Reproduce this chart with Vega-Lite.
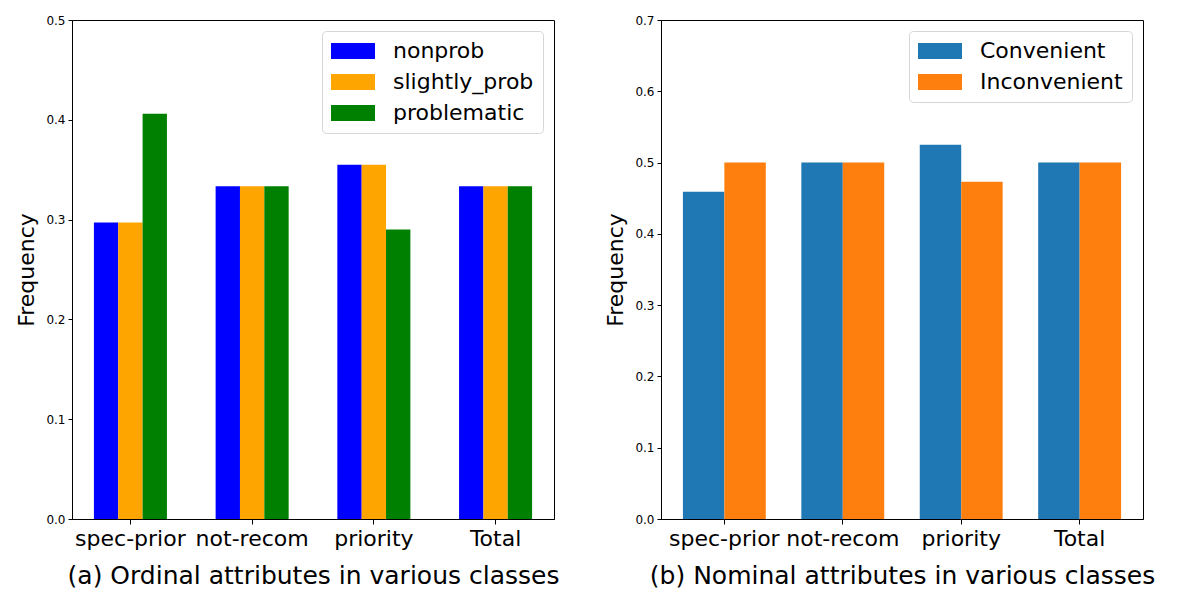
{
  "$schema": "https://vega.github.io/schema/vega-lite/v6.json",
  "padding": {"left": 15, "top": 13, "right": 0, "bottom": 0},
  "background": "white",
  "config": {
    "font": "DejaVu Sans",
    "view": {"stroke": "black", "strokeWidth": 1},
    "axis": {
      "domainColor": "black", "tickColor": "black", "labelColor": "black", "titleColor": "black",
      "grid": false, "titleFontWeight": "normal", "labelFont": "DejaVu Sans", "titleFont": "DejaVu Sans"
    },
    "legend": {
      "labelFont": "DejaVu Sans", "labelFontSize": 22, "labelColor": "black",
      "fillColor": "white", "strokeColor": "#d6d6d6", "cornerRadius": 4, "padding": 9,
      "symbolType": "M-1,-0.72H3V0.72H-1Z", "symbolSize": 484, "symbolStrokeWidth": 0,
      "symbolOpacity": 1, "rowPadding": 9, "labelOffset": 40, "offset": 11
    },
    "concat": {"spacing": 44}
  },
  "datasets": {
    "ord": [
      {"cls": "spec-prior", "grp": "nonprob", "v": 0.297},
      {"cls": "spec-prior", "grp": "slightly_prob", "v": 0.297},
      {"cls": "spec-prior", "grp": "problematic", "v": 0.406},
      {"cls": "not-recom", "grp": "nonprob", "v": 0.3333},
      {"cls": "not-recom", "grp": "slightly_prob", "v": 0.3333},
      {"cls": "not-recom", "grp": "problematic", "v": 0.3333},
      {"cls": "priority", "grp": "nonprob", "v": 0.355},
      {"cls": "priority", "grp": "slightly_prob", "v": 0.355},
      {"cls": "priority", "grp": "problematic", "v": 0.290},
      {"cls": "Total", "grp": "nonprob", "v": 0.3333},
      {"cls": "Total", "grp": "slightly_prob", "v": 0.3333},
      {"cls": "Total", "grp": "problematic", "v": 0.3333}
    ],
    "nom": [
      {"cls": "spec-prior", "grp": "Convenient", "v": 0.459},
      {"cls": "spec-prior", "grp": "Inconvenient", "v": 0.5},
      {"cls": "not-recom", "grp": "Convenient", "v": 0.5},
      {"cls": "not-recom", "grp": "Inconvenient", "v": 0.5},
      {"cls": "priority", "grp": "Convenient", "v": 0.525},
      {"cls": "priority", "grp": "Inconvenient", "v": 0.473},
      {"cls": "Total", "grp": "Convenient", "v": 0.5},
      {"cls": "Total", "grp": "Inconvenient", "v": 0.5}
    ]
  },
  "hconcat": [
    {
      "width": 482, "height": 499,
      "data": {"name": "ord"},
      "mark": {"type": "bar"},
      "encoding": {
        "x": {
          "field": "cls", "type": "nominal", "sort": ["spec-prior", "not-recom", "priority", "Total"],
          "scale": {"paddingInner": 0.4, "paddingOuter": 0.18},
          "axis": {"labelAngle": 0, "labelFontSize": 22, "tickSize": 5, "labelPadding": 4,
                   "title": "(a) Ordinal attributes in various classes", "titleFontSize": 25, "titlePadding": 14}
        },
        "xOffset": {"field": "grp", "type": "nominal", "sort": ["nonprob", "slightly_prob", "problematic"],
                    "scale": {"paddingInner": 0, "paddingOuter": 0}},
        "y": {
          "field": "v", "type": "quantitative", "scale": {"domain": [0, 0.5], "nice": false},
          "axis": {"values": [0, 0.1, 0.2, 0.3, 0.4, 0.5], "format": ".1f", "labelFontSize": 12,
                   "tickSize": 4, "labelPadding": 3, "title": "Frequency", "titleFontSize": 22, "titlePadding": 7}
        },
        "color": {
          "field": "grp", "type": "nominal", "sort": ["nonprob", "slightly_prob", "problematic"],
          "scale": {"domain": ["nonprob", "slightly_prob", "problematic"], "range": ["#0000ff", "#ffa500", "#008000"]},
          "legend": {"title": null, "orient": "top-right"}
        }
      }
    },
    {
      "width": 482, "height": 499,
      "data": {"name": "nom"},
      "mark": {"type": "bar"},
      "encoding": {
        "x": {
          "field": "cls", "type": "nominal", "sort": ["spec-prior", "not-recom", "priority", "Total"],
          "scale": {"paddingInner": 0.3, "paddingOuter": 0.185},
          "axis": {"labelAngle": 0, "labelFontSize": 22, "tickSize": 5, "labelPadding": 4,
                   "title": "(b) Nominal attributes in various classes", "titleFontSize": 25, "titlePadding": 14}
        },
        "xOffset": {"field": "grp", "type": "nominal", "sort": ["Convenient", "Inconvenient"],
                    "scale": {"paddingInner": 0, "paddingOuter": 0}},
        "y": {
          "field": "v", "type": "quantitative", "scale": {"domain": [0, 0.7], "nice": false},
          "axis": {"values": [0, 0.1, 0.2, 0.3, 0.4, 0.5, 0.6, 0.7], "format": ".1f", "labelFontSize": 12,
                   "tickSize": 4, "labelPadding": 3, "title": "Frequency", "titleFontSize": 22, "titlePadding": 7}
        },
        "color": {
          "field": "grp", "type": "nominal", "sort": ["Convenient", "Inconvenient"],
          "scale": {"domain": ["Convenient", "Inconvenient"], "range": ["#1f77b4", "#ff7f0e"]},
          "legend": {"title": null, "orient": "top-right"}
        }
      }
    }
  ],
  "resolve": {"scale": {"color": "independent", "x": "independent", "y": "independent", "xOffset": "independent"}, "legend": {"color": "independent"}}
}
